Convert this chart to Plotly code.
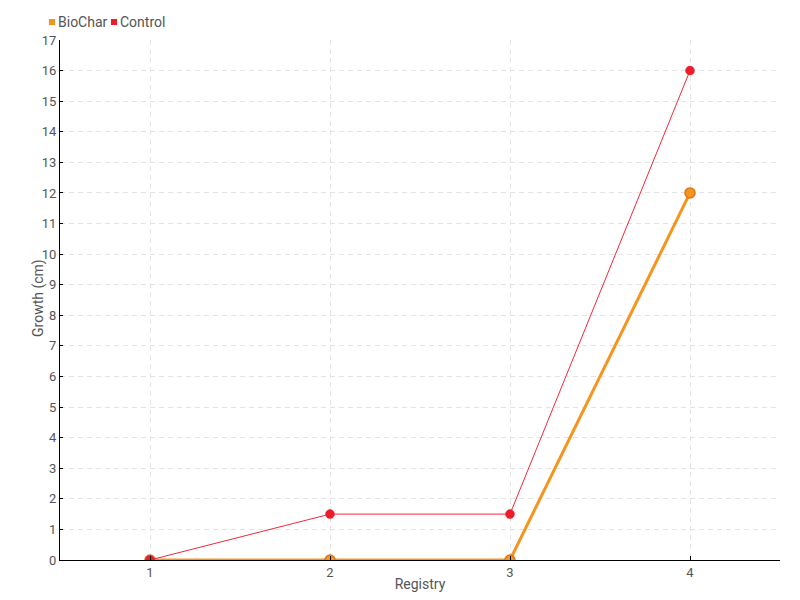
import plotly.graph_objects as go

registry = [1, 2, 3, 4]
biochar = [0, 0, 0, 12]
control = [0, 1.5, 1.5, 16]
y_ticks = list(range(0, 18))
series_names = ["BioChar", "Control"]
series_colors = ["#F7941D", "#EC1C2B"]

FONT = "Roboto, sans-serif"
TXT = "#555555"

# page has 8px body offset; plot area on page: x 60..780, y 40..560
W, H = 800, 600
ML, MR, MT, MB = 52, 28, 32, 48
PW, PH = W - ML - MR, H - MT - MB


def px(xpage):
    return (xpage - 8 - ML) / PW


def py(ypage):
    return 1 + (MT - (ypage - 8)) / PH


fig = go.Figure()
fig.add_trace(go.Scatter(
    x=registry, y=biochar, name=series_names[0], mode="lines+markers",
    line=dict(color=series_colors[0], width=3),
    marker=dict(size=10, color=series_colors[0], line=dict(color="#D9761A", width=1.5)),
))
fig.add_trace(go.Scatter(
    x=registry, y=control, name=series_names[1], mode="lines+markers",
    line=dict(color="#F0283C", width=1),
    marker=dict(size=9, color=series_colors[1], line=dict(color=series_colors[1], width=0.5)),
))

# custom legend (square swatch + label)
legend_swatch_x = [52, 114]
legend_text_x = [56, 118]
for n, c, sx, tx in zip(series_names, series_colors, legend_swatch_x, legend_text_x):
    fig.add_shape(type="rect", xref="paper", yref="paper",
                  x0=px(sx - 3), x1=px(sx + 3), y0=py(25), y1=py(19),
                  fillcolor=c, line=dict(width=0))
    fig.add_annotation(text=n, xref="paper", yref="paper", x=px(tx), y=py(22),
                       xanchor="left", yanchor="middle", showarrow=False,
                       font=dict(family=FONT, size=14, color=TXT))

# y axis title
fig.add_annotation(text="Growth (cm)", xref="paper", yref="paper", x=px(38), y=py(298),
                   xanchor="center", yanchor="middle", textangle=-90, showarrow=False,
                   font=dict(family=FONT, size=14, color=TXT))

fig.update_layout(
    width=W, height=H,
    margin=dict(l=ML, r=MR, t=MT, b=MB, autoexpand=False),
    paper_bgcolor="white", plot_bgcolor="white",
    font=dict(family=FONT, size=13, color=TXT),
    showlegend=False,
    xaxis=dict(
        range=[0.5, 4.5], tickmode="array", tickvals=registry, ticktext=[str(v) for v in registry],
        showgrid=True, gridcolor="#E3E3E3", griddash="5px,4px", gridwidth=1,
        showline=True, linecolor="black", linewidth=1, automargin=False,
        ticks="inside", ticklen=4, tickcolor="black", zeroline=False,
        title=dict(text="Registry", standoff=0, font=dict(size=14, color=TXT)),
    ),
    yaxis=dict(
        range=[0, 17], tickmode="array", tickvals=y_ticks, automargin=False,
        showgrid=True, gridcolor="#E3E3E3", griddash="5px,4px", gridwidth=1,
        showline=True, linecolor="black", linewidth=1,
        ticks="inside", ticklen=3, tickcolor="black", zeroline=False,
    ),
)

fig.write_html("out.html")
